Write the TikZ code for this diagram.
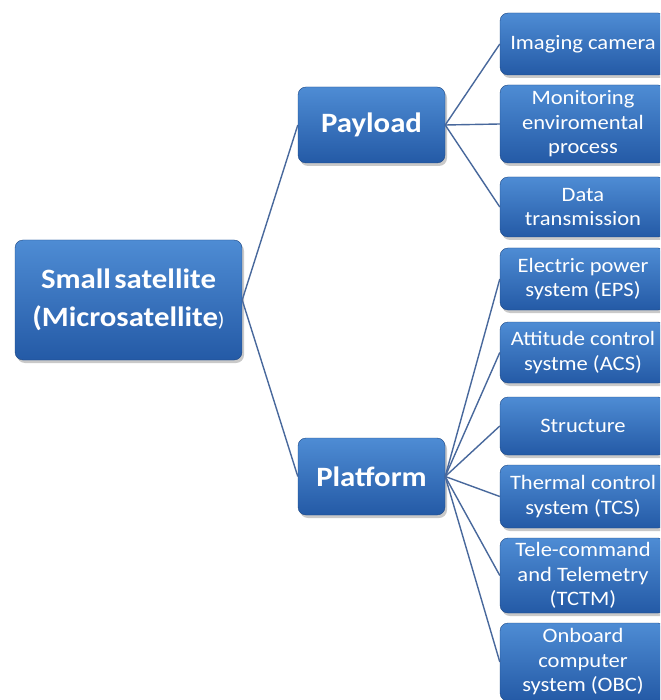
\documentclass[tikz,border=0pt]{standalone}
\usepackage{fontspec}
\setmainfont{Carlito}[FakeStretch=1.1]
\usetikzlibrary{shadows}
\definecolor{boxtop}{RGB}{78,140,212}
\definecolor{boxbot}{RGB}{36,90,166}
\definecolor{linkc}{RGB}{72,104,156}
\tikzset{
  box/.style={rounded corners=8pt, top color=boxtop, bottom color=boxbot,
    draw=boxbot!80!black, line width=0.4pt, text=white, align=center,
    inner sep=2pt,
    drop shadow={shadow xshift=2pt, shadow yshift=-3pt, opacity=0.35, fill=black!60}},
  bigbox/.style={box, font=\fontsize{28}{38}\selectfont\bfseries},
  leaf/.style={box, minimum width=166pt, font=\fontsize{20.5}{24.5}\selectfont},
  link/.style={draw=linkc, line width=1.4pt}
}
\begin{document}
\begin{tikzpicture}[x=1pt, y=-1pt]
  \useasboundingbox (0,0) rectangle (660,700);
  \clip (0,0) rectangle (660,700);
  \fill[white] (0,0) rectangle (660,700);

  % main branches
  \node[bigbox, minimum width=227pt, minimum height=120pt] (root) at (128.5,300)
    {Small\hspace{0.12em}satellite\\(Microsatellite{\mdseries\fontsize{20}{24}\selectfont)}};
  \node[bigbox, minimum width=147pt, minimum height=76pt] (payload) at (371.5,125) {Payload};
  \node[bigbox, minimum width=147pt, minimum height=77pt] (platform) at (371.5,476.5) {Platform};

  % payload items
  \node[leaf, minimum height=62pt] (cam) at (583,44) {Imaging camera};
  \node[leaf, minimum height=78pt] (mon) at (583,124) {Monitoring\\enviromental\\process};
  \node[leaf, minimum height=60pt] (data) at (583,207) {Data\\transmission};

  % platform subsystems
  \node[leaf, minimum height=62pt] (eps) at (583,279) {Electric power\\system (EPS)};
  \node[leaf, minimum height=61pt] (acs) at (583,352.5) {Attitude control\\systme (ACS)};
  \node[leaf, minimum height=58pt] (str) at (583,426) {Structure};
  \node[leaf, minimum height=63pt] (tcs) at (583,496.5) {Thermal control\\system (TCS)};
  \node[leaf, minimum height=75pt] (tctm) at (583,575.5) {Tele-command\\and Telemetry\\(TCTM)};
  \node[leaf, minimum height=78pt] (obc) at (583,662) {Onboard\\computer\\system (OBC)};

  % connectors
  \draw[link] (root.east) -- (payload.west);
  \draw[link] (root.east) -- (platform.west);
  \foreach \n in {cam,mon,data}
    \draw[link] (payload.east) -- (\n.west);
  \foreach \n in {eps,acs,str,tcs,tctm,obc}
    \draw[link] (platform.east) -- (\n.west);
\end{tikzpicture}
\end{document}
